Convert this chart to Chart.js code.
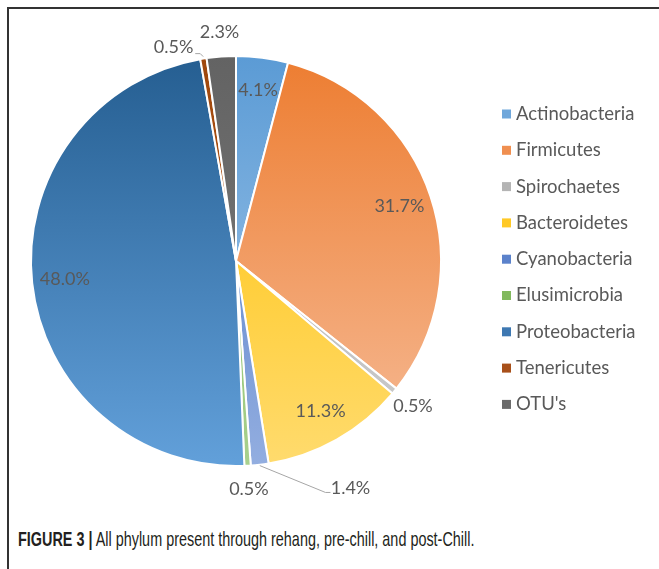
<!DOCTYPE html>
<html>
<head>
<meta charset="utf-8">
<script src="https://cdn.jsdelivr.net/npm/chart.js@4.4.1/dist/chart.umd.min.js"></script>
<style>
  html, body { margin: 0; padding: 0; background: #fff; }
  #page { position: relative; width: 659px; height: 569px; overflow: hidden; }
  #frame {
    position: absolute; left: 7px; top: 7px; width: 670px; height: 580px;
    border-left: 2px solid #333; border-top: 2px solid #333;
  }
  #wrap { position: absolute; left: 0; top: 0; width: 659px; height: 500px; }
  #caption {
    position: absolute; left: 18px; top: 527px;
    font-family: "Liberation Sans", Arial, sans-serif;
    font-size: 21px; color: #231f20; white-space: nowrap;
    transform-origin: 0 50%;
  }
  #caption b { font-weight: bold; }
</style>
</head>
<body>
<div id="page">
  <div id="frame"></div>
  <div id="wrap"><canvas id="pie"></canvas></div>
  <div id="caption"><b>FIGURE 3 |</b> All phylum present through rehang, pre-chill, and post-Chill.</div>
</div>
<script>
// phylum shares (%)
const phyla = ['Actinobacteria', 'Firmicutes', 'Spirochaetes', 'Bacteroidetes', 'Cyanobacteria',
  'Elusimicrobia', 'Proteobacteria', 'Tenericutes', "OTU's"];
const shares = [4.1, 31.7, 0.5, 11.3, 1.4, 0.5, 48.0, 0.5, 2.3];

// top / bottom colours of each slice gradient
const topColors = ['#5B9BD5', '#ED7D31', '#A5A5A5', '#FFC000', '#4472C4', '#70AD47', '#255E91', '#9E480E', '#636363'];
const botColors = ['#A9CBEB', '#F6BC98', '#CFCFCF', '#FFDB6E', '#93AEE0', '#A9D18E', '#62A0DA', '#C55A11', '#7E7E7E'];
const keyColors = ['#6FA7DB', '#F08F50', '#B4B4B4', '#FFC926', '#5B82CB', '#82B95E', '#3E78B2', '#A8501A', '#6B6B6B'];

const FONT = 'Lato, "Open Sans", sans-serif';
const TEXT = '#595959';
const RADIUS = 205;

// slices under 3% get their label outside the pie
const labelTweak = {
  4: { dx: 88, dy: 0, leader: true },
  7: { dx: -26, dy: 12, hook: true }
};

function sliceGradient(c) {
  const { chart, dataIndex } = c;
  const area = chart.chartArea;
  if (!area) return topColors[dataIndex];
  const cy = (area.top + area.bottom) / 2;
  const g = chart.ctx.createLinearGradient(0, cy - RADIUS, 0, cy + RADIUS);
  g.addColorStop(0, topColors[dataIndex]);
  g.addColorStop(1, botColors[dataIndex]);
  return g;
}

const sliceLabels = {
  id: 'sliceLabels',
  afterDatasetsDraw(chart) {
    const ctx = chart.ctx;
    const arcs = chart.getDatasetMeta(0).data;
    ctx.save();
    ctx.font = '18px ' + FONT;
    ctx.fillStyle = TEXT;
    ctx.textAlign = 'center';
    ctx.textBaseline = 'middle';
    arcs.forEach((arc, i) => {
      const { x, y, startAngle, endAngle, outerRadius } = arc.getProps(['x', 'y', 'startAngle', 'endAngle', 'outerRadius'], true);
      const mid = (startAngle + endAngle) / 2;
      const inside = shares[i] >= 3;
      const r = inside ? outerRadius * 0.84 : outerRadius + 24;
      let lx = x + Math.cos(mid) * r;
      let ly = y + Math.sin(mid) * r;
      const t = labelTweak[i];
      if (t) {
        lx += t.dx; ly += t.dy;
        const ex = x + Math.cos(mid) * (outerRadius + 1);
        const ey = y + Math.sin(mid) * (outerRadius + 1);
        ctx.strokeStyle = '#A6A6A6';
        ctx.lineWidth = 1;
        ctx.beginPath();
        if (t.leader) {
          ctx.moveTo(ex, ey);
          ctx.lineTo(lx - 25, ly + 4);
          ctx.lineTo(lx - 20, ly + 4);
        } else if (t.hook) {
          ctx.moveTo(ex, ey - 1);
          ctx.lineTo(ex - 3, ey - 4);
          ctx.lineTo(ex - 8, ey - 4);
        }
        ctx.stroke();
      }
      ctx.fillText(shares[i].toFixed(1) + '%', lx, ly);
    });
    ctx.restore();
  }
};

// right-hand key, one row per phylum
const phylumKey = {
  id: 'phylumKey',
  afterDraw(chart) {
    const ctx = chart.ctx;
    ctx.save();
    ctx.font = '18.5px ' + FONT;
    ctx.textAlign = 'left';
    ctx.textBaseline = 'middle';
    phyla.forEach((name, i) => {
      const yy = 114 + i * 36.3;
      ctx.fillStyle = keyColors[i];
      ctx.fillRect(502, yy - 4.5, 9, 9);
      ctx.fillStyle = TEXT;
      ctx.fillText(name, 516, yy);
    });
    ctx.restore();
  }
};

new Chart(document.getElementById('pie'), {
  type: 'pie',
  data: {
    labels: phyla,
    datasets: [{
      data: shares,
      backgroundColor: sliceGradient,
      borderColor: '#ffffff',
      borderWidth: 2,
      radius: RADIUS
    }]
  },
  options: {
    responsive: true,
    maintainAspectRatio: false,
    animation: false,
    layout: { padding: { left: 31, right: 218, top: 56, bottom: 34 } },
    plugins: {
      legend: { display: false },
      tooltip: { enabled: false }
    }
  },
  plugins: [sliceLabels, phylumKey]
});

// squeeze the caption into a condensed run
const cap = document.getElementById('caption');
cap.style.transform = 'scaleX(' + (456 / cap.offsetWidth).toFixed(3) + ')';
</script>
</body>
</html>
